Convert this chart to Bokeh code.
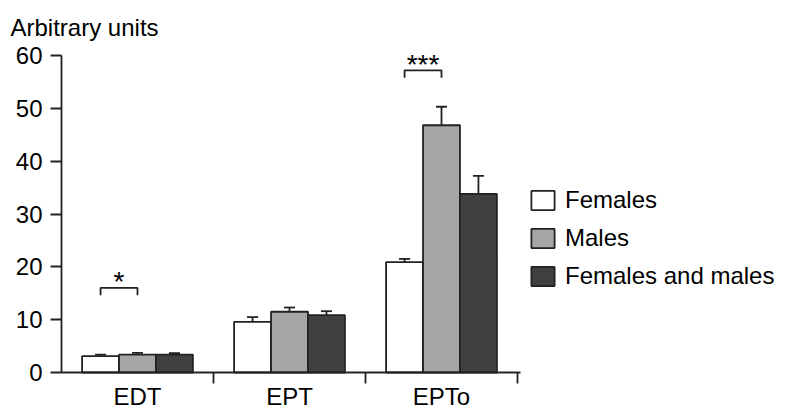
from bokeh.plotting import figure
from bokeh.models import (Range1d, FixedTicker, Legend, LegendItem, Whisker, TeeHead,
                          ColumnDataSource, Label)
from bokeh.embed import file_html
from bokeh.resources import INLINE
from bokeh.core.properties import value

# ---- data ----
categories = ["EDT", "EPT", "EPTo"]
groups = ["Females", "Males", "Females and males"]
females = [3.1, 9.6, 20.9]
females_err = [0.3, 0.9, 0.6]
males = [3.4, 11.5, 46.8]
males_err = [0.3, 0.8, 3.5]
both = [3.4, 10.85, 33.8]
both_err = [0.25, 0.75, 3.4]
y_ticks = [0, 10, 20, 30, 40, 50, 60]
sig_category = ["EDT", "EPTo"]
sig_level = [16.0, 57.2]
sig_drop = 1.4
sig_labels = ["*", "***"]
y_title = "Arbitrary units"

# ---- style / layout ----
FONT = "Liberation Sans"
FS = "24px"
colors = ["#ffffff", "#a6a6a6", "#3f4042"]
edge = "#222222"
LW = 1.8
bar_w = 0.243
offsets = [-bar_w, 0.0, bar_w]
W, H = 787, 415
ppx = 152.0            # pixels per category
ppy = 317.0 / 60.0     # pixels per y unit
org_x, org_y = 61, 372 # pixel position of the axes corner
x_start = -0.5 - org_x / ppx
y_start = -(H - org_y) / ppy

p = figure(width=W, height=H, output_backend="svg", toolbar_location=None,
           x_range=Range1d(x_start, x_start + W / ppx),
           y_range=Range1d(y_start, y_start + H / ppy),
           min_border_left=0, min_border_right=0, min_border_top=0, min_border_bottom=0)
p.title.visible = False
p.outline_line_color = None
p.xgrid.visible = False
p.ygrid.visible = False
p.background_fill_color = "white"
p.border_fill_color = "white"

series = [females, males, both]
errs = [females_err, males_err, both_err]
renderers = []
for g, vals, err, off, col in zip(groups, series, errs, offsets, colors):
    xs = [i + off for i in range(len(categories))]
    src = ColumnDataSource(dict(x=xs, top=vals, upper=[v + e for v, e in zip(vals, err)]))
    r = p.vbar(x="x", top="top", bottom=0, width=bar_w, source=src, fill_color=col,
               line_color=edge, line_width=LW)
    renderers.append(r)
    w = Whisker(base="x", lower="top", upper="upper", source=src, dimension="height",
                lower_head=None, upper_head=TeeHead(size=11, line_color=edge, line_width=LW),
                line_color=edge, line_width=LW)
    p.add_layout(w)

# significance brackets (between Females and Males bars)
bx, by, tx, ty = [], [], [], []
for c, lvl in zip(sig_category, sig_level):
    i = categories.index(c)
    x1, x2 = i + offsets[0], i + offsets[1]
    bx.append([x1, x1, x2, x2])
    by.append([lvl - sig_drop, lvl, lvl, lvl - sig_drop])
    tx.append((x1 + x2) / 2)
    ty.append(lvl)
p.multi_line(xs=bx, ys=by, line_color=edge, line_width=LW)
p.text(x=tx, y=ty, text=sig_labels, text_align="center", text_baseline="alphabetic",
       y_offset=-6, text_font=value(FONT), text_font_size="28px", text_color="black")

# axes (fixed at the data origin)
p.yaxis.fixed_location = -0.5
p.yaxis.ticker = FixedTicker(ticks=y_ticks)
p.yaxis.bounds = (0, 60)
p.yaxis.major_tick_out = 11
p.yaxis.major_tick_in = 0
p.yaxis.minor_tick_line_color = None
p.yaxis.major_label_standoff = 8
p.yaxis.major_label_text_font = FONT
p.yaxis.major_label_text_font_size = FS
p.yaxis.major_label_text_color = "black"
p.yaxis.axis_line_width = LW
p.yaxis.major_tick_line_width = LW
p.yaxis.axis_line_color = edge
p.yaxis.major_tick_line_color = edge

p.xaxis.fixed_location = 0
p.xaxis.ticker = FixedTicker(ticks=[0, 1, 2], minor_ticks=[0.5, 1.5, 2.5])
p.xaxis.bounds = (-0.5, 2.52)
p.xaxis.major_label_overrides = {i: c for i, c in enumerate(categories)}
p.xaxis.major_tick_out = 0
p.xaxis.major_tick_in = 0
p.xaxis.minor_tick_out = 11
p.xaxis.minor_tick_in = 0
p.xaxis.major_label_standoff = -1
p.xaxis.major_label_text_font = FONT
p.xaxis.major_label_text_font_size = FS
p.xaxis.major_label_text_color = "black"
p.xaxis.axis_line_width = LW
p.xaxis.minor_tick_line_width = LW
p.xaxis.axis_line_color = edge
p.xaxis.minor_tick_line_color = edge

# y title
p.add_layout(Label(x=x_start + 10 / ppx, y=(org_y - 27) / ppy, text=y_title,
                   text_baseline="alphabetic", text_font=FONT, text_font_size=FS,
                   text_color="black"))

legend = Legend(items=[LegendItem(label=g, renderers=[r]) for g, r in zip(groups, renderers)],
                location=(528, H - 290), padding=0, margin=0, spacing=10,
                glyph_width=29, glyph_height=24, label_standoff=8,
                label_text_font=FONT, label_text_font_size=FS, label_text_color="black",
                border_line_color=None, background_fill_alpha=0)
p.add_layout(legend)

open("out.html", "w").write(file_html(p, INLINE))
